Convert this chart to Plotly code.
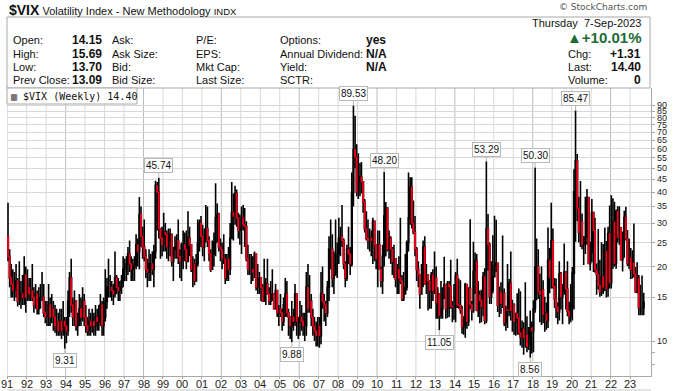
import math
import plotly.graph_objects as go
import pandas as pd

# ---------------- data (monthly summary of the weekly $VIX bars) ----------------
start_month = "1991-01-01"
first_open = 26.5

month_high = [
    36.2, 23.5, 20.5, 19.5, 19.0, 20.5, 18.0, 21.0, 17.5, 18.5, 22.0, 20.0,   # 1991
    19.5, 18.0, 18.0, 20.5, 16.5, 17.0, 16.0, 16.5, 17.0, 19.0, 17.0, 14.5,   # 1992
    14.5, 17.0, 15.0, 15.5, 14.5, 14.0, 13.5, 13.0, 13.5, 13.5, 14.5, 12.5,   # 1993
    12.5, 16.0, 19.0, 21.5, 15.0, 16.0, 14.5, 13.0, 15.5, 15.0, 16.5, 15.5,   # 1994
    14.0, 12.5, 13.5, 13.0, 13.5, 13.0, 14.0, 13.5, 14.0, 15.5, 14.5, 15.0,   # 1995
    19.5, 18.0, 21.5, 18.5, 17.5, 17.0, 23.0, 18.5, 18.0, 17.5, 18.5, 22.0,   # 1996
    21.5, 22.0, 24.0, 25.5, 22.0, 21.5, 22.0, 27.0, 26.0, 38.2, 35.0, 29.0,   # 1997
    31.0, 23.5, 21.5, 23.5, 22.5, 23.0, 24.5, 44.5, 44.0, 45.74, 28.5, 29.0,  # 1998
    33.0, 30.0, 28.0, 28.5, 28.5, 27.0, 24.0, 26.5, 27.0, 31.0, 23.5, 25.0,   # 1999
    28.0, 27.5, 28.0, 33.5, 29.0, 24.5, 22.0, 21.5, 22.5, 31.0, 31.0, 32.0,   # 2000
    29.5, 28.5, 35.5, 35.0, 26.5, 23.5, 25.5, 27.5, 43.5, 36.0, 33.0, 26.0,   # 2001
    25.0, 27.0, 22.5, 22.5, 24.0, 30.0, 44.0, 39.5, 42.5, 41.0, 33.0, 32.5,   # 2002
    35.0, 35.5, 34.5, 30.5, 24.5, 22.5, 22.5, 22.0, 23.0, 22.5, 20.5, 19.0,   # 2003
    17.5, 17.0, 21.5, 18.0, 21.5, 16.5, 17.5, 19.5, 15.5, 17.0, 16.0, 14.0,   # 2004
    15.5, 13.5, 15.0, 18.0, 17.5, 13.5, 12.5, 14.5, 13.5, 17.0, 15.5, 12.5,   # 2005
    14.5, 14.0, 13.0, 13.0, 19.0, 20.5, 18.5, 15.5, 13.5, 12.5, 12.0, 12.5,   # 2006
    12.5, 19.0, 20.0, 15.5, 14.5, 17.5, 26.5, 31.0, 27.0, 23.0, 31.0, 25.0,   # 2007
    31.5, 29.0, 35.5, 26.0, 21.0, 24.5, 29.0, 24.0, 48.0, 89.53, 81.5, 62.5,  # 2008
    57.5, 52.5, 53.0, 44.0, 37.5, 33.5, 31.0, 28.5, 28.0, 31.5, 30.5, 24.5,   # 2009
    28.0, 28.0, 20.0, 24.5, 48.2, 36.5, 34.5, 28.0, 26.5, 24.0, 24.5, 20.5,   # 2010
    20.5, 22.0, 31.5, 18.5, 19.0, 22.5, 25.5, 48.0, 46.0, 46.0, 37.0, 32.0,   # 2011
    24.0, 21.0, 18.5, 20.5, 25.5, 26.5, 20.5, 18.5, 17.5, 19.0, 19.5, 23.0,   # 2012
    20.0, 16.5, 15.5, 17.5, 16.5, 21.9, 17.0, 17.5, 17.5, 21.3, 14.5, 17.0,   # 2013
    19.0, 21.5, 17.9, 17.6, 13.9, 12.6, 17.2, 16.7, 16.5, 31.1, 14.5, 25.2,   # 2014
    22.8, 22.5, 17.5, 16.0, 16.1, 19.0, 19.7, 53.29, 32.6, 25.0, 21.0, 26.8,  # 2015
    32.1, 30.9, 20.7, 16.6, 17.3, 26.7, 16.3, 13.9, 20.5, 17.8, 23.0, 14.7,   # 2016
    14.2, 13.0, 15.6, 16.3, 15.9, 12.1, 11.9, 17.3, 12.6, 11.4, 13.3, 12.0,   # 2017
    14.6, 50.3, 26.0, 23.5, 18.7, 20.0, 17.6, 15.1, 14.3, 28.8, 23.8, 36.2,   # 2018
    28.5, 18.0, 17.9, 14.3, 21.0, 19.0, 17.0, 24.8, 18.3, 21.0, 14.4, 17.0,   # 2019
    19.9, 49.5, 85.47, 57.0, 38.3, 44.4, 32.8, 24.5, 38.3, 41.2, 38.1, 25.2,  # 2020
    37.5, 31.2, 31.5, 20.6, 28.4, 21.3, 25.1, 24.7, 28.8, 25.4, 29.0, 35.3,   # 2021
    38.9, 37.8, 36.6, 34.0, 35.1, 35.1, 28.8, 27.7, 33.6, 34.9, 28.1, 25.9,   # 2022
    23.8, 23.3, 29.9, 19.9, 20.8, 18.5, 16.9, 18.4, 15.69,                    # 2023
]

month_low = [
    21.0, 16.5, 15.0, 15.0, 14.5, 15.0, 13.8, 14.0, 13.5, 14.0, 14.0, 13.0,   # 1991
    14.5, 14.5, 14.5, 14.5, 13.0, 13.5, 12.8, 12.8, 13.5, 14.5, 12.5, 11.8,   # 1992
    11.5, 11.5, 11.5, 11.8, 11.0, 10.8, 10.5, 10.5, 10.5, 10.2, 10.5, 9.31,   # 1993
    9.8, 10.5, 12.5, 13.0, 11.5, 11.5, 11.0, 10.5, 11.5, 11.5, 12.0, 11.5,    # 1994
    10.8, 10.5, 10.5, 10.5, 10.8, 10.5, 10.5, 11.0, 11.0, 11.5, 10.5, 10.5,   # 1995
    12.0, 13.5, 15.0, 15.0, 14.5, 14.0, 15.0, 15.5, 14.5, 14.5, 15.5, 16.5,   # 1996
    17.5, 17.5, 18.5, 19.0, 17.5, 17.5, 17.5, 19.5, 20.0, 19.5, 24.0, 21.5,   # 1997
    21.0, 18.0, 16.5, 17.5, 17.5, 18.5, 16.5, 21.5, 28.0, 26.0, 21.5, 22.0,   # 1998
    23.0, 23.0, 21.5, 21.0, 22.0, 20.0, 17.5, 21.5, 21.5, 20.5, 18.0, 17.5,   # 1999
    19.5, 21.0, 19.5, 21.5, 22.0, 19.0, 16.5, 16.8, 17.5, 20.0, 23.0, 24.0,   # 2000
    22.0, 21.0, 25.0, 24.0, 21.0, 19.0, 19.5, 20.0, 22.0, 25.0, 23.0, 21.0,   # 2001
    19.5, 20.5, 17.0, 17.5, 17.5, 18.5, 26.0, 25.5, 29.5, 29.0, 26.0, 24.5,   # 2002
    22.5, 28.0, 24.0, 21.0, 18.5, 18.5, 17.0, 17.5, 18.0, 16.0, 15.5, 15.5,   # 2003
    14.5, 14.5, 14.5, 14.0, 15.5, 14.0, 14.0, 14.5, 13.5, 13.5, 12.5, 11.5,   # 2004
    12.5, 11.0, 11.5, 12.5, 12.5, 10.5, 10.2, 9.88, 11.0, 11.5, 10.5, 10.2,   # 2005
    10.5, 11.0, 10.5, 10.0, 10.5, 13.0, 13.0, 11.5, 10.5, 10.0, 9.5, 9.5,     # 2006
    9.4, 9.7, 13.5, 12.0, 11.5, 12.5, 14.5, 19.5, 16.5, 15.5, 18.5, 18.0,     # 2007
    20.5, 22.0, 24.0, 19.5, 16.5, 17.5, 20.5, 18.5, 20.0, 35.0, 50.0, 38.5,   # 2008
    37.5, 38.5, 39.5, 33.0, 27.5, 25.5, 23.5, 23.0, 22.0, 20.5, 21.0, 19.5,   # 2009
    16.5, 19.5, 16.5, 15.5, 20.0, 22.0, 23.0, 21.5, 20.5, 18.5, 18.0, 16.5,   # 2010
    15.5, 15.5, 17.0, 14.5, 14.5, 15.5, 16.0, 23.0, 29.5, 28.5, 27.0, 22.0,   # 2011
    17.5, 16.5, 13.5, 15.5, 16.5, 17.0, 15.5, 13.3, 13.5, 13.5, 14.5, 15.5,   # 2012
    12.3, 12.3, 11.05, 12.3, 12.3, 14.8, 12.3, 12.4, 12.5, 13.5, 11.9, 12.2,  # 2013
    11.9, 13.6, 13.5, 12.9, 10.7, 10.6, 10.3, 11.2, 11.5, 13.5, 12.1, 13.0,   # 2014
    15.5, 13.2, 12.5, 11.8, 11.9, 12.6, 11.7, 11.8, 19.3, 14.1, 14.1, 15.6,   # 2015
    18.4, 19.0, 13.1, 12.5, 12.9, 13.6, 11.5, 11.0, 11.3, 12.6, 12.1, 10.9,   # 2016
    10.6, 10.5, 10.6, 10.6, 9.6, 9.4, 8.8, 9.4, 9.0, 9.2, 8.56, 8.9,          # 2017
    9.0, 13.0, 14.6, 14.8, 11.9, 11.6, 11.8, 10.9, 11.1, 11.3, 15.6, 16.3,    # 2018
    16.3, 13.6, 12.4, 11.7, 12.1, 13.4, 11.7, 15.4, 13.4, 12.6, 11.7, 11.9,   # 2019
    12.1, 13.4, 25.2, 30.5, 25.0, 24.0, 23.5, 20.3, 22.5, 24.5, 20.6, 19.3,   # 2020
    20.8, 19.0, 18.9, 15.4, 16.1, 15.1, 15.2, 15.5, 15.9, 15.0, 15.1, 16.3,   # 2021
    16.3, 19.6, 20.0, 19.6, 25.0, 24.5, 21.9, 19.1, 21.7, 25.5, 20.1, 19.6,   # 2022
    17.8, 17.9, 18.1, 15.7, 15.6, 12.7, 12.7, 12.7, 12.7,                     # 2023
]

month_close = [
    22.0, 18.0, 17.0, 16.0, 16.5, 17.5, 14.5, 15.0, 15.5, 15.0, 18.5, 15.0,   # 1991
    16.5, 15.5, 16.0, 15.0, 14.0, 15.5, 13.5, 15.0, 15.0, 15.0, 13.0, 12.5,   # 1992
    12.5, 14.0, 12.5, 13.5, 12.5, 11.5, 12.0, 11.0, 12.0, 11.0, 12.0, 11.5,   # 1993
    11.0, 14.5, 18.0, 14.0, 12.5, 14.5, 11.5, 12.0, 13.5, 12.5, 14.5, 12.5,   # 1994
    11.5, 11.0, 12.0, 11.5, 12.0, 11.5, 12.5, 12.0, 12.5, 14.0, 11.5, 12.5,   # 1995
    14.5, 16.5, 16.5, 16.5, 16.0, 15.5, 18.0, 16.5, 16.0, 16.5, 17.5, 19.5,   # 1996
    19.5, 20.5, 22.5, 20.5, 19.5, 20.0, 20.5, 24.5, 23.0, 32.5, 26.5, 24.0,   # 1997
    22.0, 19.5, 19.0, 20.5, 20.5, 19.5, 23.0, 42.5, 40.0, 28.5, 26.0, 24.5,   # 1998
    27.5, 27.0, 24.0, 25.5, 27.0, 21.0, 23.5, 24.0, 25.5, 22.0, 21.0, 24.5,   # 1999
    24.5, 23.5, 21.0, 26.0, 24.5, 19.5, 20.5, 17.5, 20.5, 25.0, 30.0, 26.5,   # 2000
    24.0, 26.0, 28.5, 25.5, 22.5, 19.5, 22.5, 25.0, 31.5, 32.5, 24.0, 23.5,   # 2001
    21.5, 21.5, 18.0, 21.5, 19.5, 26.0, 33.0, 32.0, 39.5, 31.5, 28.0, 28.5,   # 2002
    31.5, 29.5, 29.0, 21.5, 19.5, 19.5, 19.5, 19.0, 22.5, 16.5, 16.5, 18.0,   # 2003
    16.5, 14.5, 16.5, 17.0, 15.5, 14.5, 15.5, 15.5, 13.5, 16.0, 13.0, 13.5,   # 2004
    13.0, 12.0, 14.0, 15.5, 13.0, 12.5, 11.5, 12.5, 12.0, 15.5, 12.0, 12.0,   # 2005
    12.5, 12.0, 11.5, 11.5, 16.5, 13.5, 14.5, 12.5, 11.5, 11.0, 10.5, 11.5,   # 2006
    10.5, 15.5, 14.5, 14.0, 13.0, 16.5, 23.5, 23.5, 18.0, 18.5, 22.5, 22.5,   # 2007
    26.0, 26.5, 25.5, 20.5, 18.0, 23.5, 22.5, 20.5, 40.0, 59.5, 55.5, 40.0,   # 2008
    44.5, 46.0, 44.0, 36.5, 28.5, 26.0, 25.5, 26.0, 25.5, 30.5, 24.5, 21.5,   # 2009
    24.5, 19.5, 17.5, 22.0, 32.0, 34.5, 23.5, 26.0, 23.5, 21.0, 21.5, 17.8,   # 2010
    19.5, 18.0, 17.5, 14.8, 15.5, 16.5, 25.0, 31.5, 42.0, 30.0, 27.5, 23.5,   # 2011
    19.5, 18.5, 15.5, 17.0, 24.0, 17.0, 18.5, 17.5, 16.0, 18.5, 16.0, 18.0,   # 2012
    14.3, 15.5, 12.7, 13.5, 16.3, 16.9, 13.5, 17.0, 16.6, 13.8, 13.7, 13.7,   # 2013
    18.4, 14.0, 13.9, 13.4, 11.4, 11.6, 16.9, 12.0, 16.3, 14.0, 13.3, 19.2,   # 2014
    21.0, 13.3, 15.3, 14.6, 13.8, 18.2, 12.1, 28.4, 24.5, 15.1, 16.1, 18.2,   # 2015
    20.2, 20.6, 13.95, 15.7, 14.2, 15.6, 11.9, 13.4, 13.3, 17.1, 13.3, 14.0,  # 2016
    12.0, 12.9, 12.4, 10.8, 10.4, 11.2, 10.3, 10.6, 9.5, 10.2, 11.3, 11.0,    # 2017
    13.5, 19.9, 20.0, 15.9, 15.4, 16.1, 12.8, 12.9, 12.1, 21.2, 18.1, 25.4,   # 2018
    16.6, 14.8, 13.7, 13.1, 18.7, 15.1, 16.1, 19.0, 16.2, 13.2, 12.6, 13.8,   # 2019
    18.8, 40.1, 53.5, 34.2, 27.5, 30.4, 24.5, 26.4, 26.4, 38.0, 20.6, 22.8,   # 2020
    33.1, 28.0, 19.4, 18.6, 16.8, 15.8, 18.2, 16.5, 23.1, 16.3, 27.2, 17.2,   # 2021
    24.8, 30.2, 20.6, 33.4, 26.2, 28.7, 21.3, 25.9, 31.6, 25.9, 20.6, 21.7,   # 2022
    19.4, 20.7, 18.7, 15.8, 17.9, 13.6, 13.6, 13.6, 14.4,                     # 2023
]

year_labels = [f"{y % 100:02d}" for y in range(1991, 2024)]
y_tick_values = [10, 15, 20, 25, 30, 35, 40, 45, 50, 55, 60, 65, 70, 75, 80, 85, 90]

peak_months = ["1998-10", "2008-10", "2010-05", "2015-08", "2018-02", "2020-03"]
trough_months = ["1993-12", "2005-08", "2013-03", "2017-11"]

header_rows = [
    ("Open:", "14.15", "Ask:", "P/E:", "Options:", "yes"),
    ("High:", "15.69", "Ask Size:", "EPS:", "Annual Dividend:", "N/A"),
    ("Low:", "13.70", "Bid:", "Mkt Cap:", "Yield:", "N/A"),
    ("Prev Close:", "13.09", "Bid Size:", "Last Size:", "SCTR:", ""),
]
right_rows = [("Chg:", "+1.31"), ("Last:", "14.40"), ("Volume:", "0")]

# ---------------- build OHLC ----------------
dates = pd.date_range(start_month, periods=len(month_close), freq="MS") + pd.Timedelta(days=14)
opens = [first_open] + month_close[:-1]
highs = [max(h, o, c) for h, o, c in zip(month_high, opens, month_close)]
lows = [min(l, o, c) for l, o, c in zip(month_low, opens, month_close)]
down = [i for i, (o, c) in enumerate(zip(opens, month_close)) if c < o]

W, H = 673, 391
L, R, T, B = 7, 651, 88, 376
RED = "#e8001c"


def px(x):
    return (x - L) / (R - L)


def py(y):
    return (B - y) / (B - T)


fig = go.Figure()
fig.add_trace(go.Candlestick(
    x=dates, open=opens, high=highs, low=lows, close=month_close,
    increasing=dict(line=dict(color="#000000", width=1.6), fillcolor="#000000"),
    decreasing=dict(line=dict(color="#000000", width=1.6), fillcolor="#000000"),
    whiskerwidth=0, showlegend=False, hoverinfo="skip",
))
fig.add_trace(go.Candlestick(
    x=[dates[i] for i in down], open=[opens[i] for i in down], close=[month_close[i] for i in down],
    high=[opens[i] for i in down], low=[month_close[i] for i in down],
    increasing=dict(line=dict(color=RED, width=1.2), fillcolor=RED),
    decreasing=dict(line=dict(color=RED, width=1.2), fillcolor=RED),
    whiskerwidth=0, showlegend=False, hoverinfo="skip",
))

shapes = []
for y in range(1991, 2024):
    dark = (y - 1994) % 4 == 0
    shapes.append(dict(type="line", xref="x", yref="paper", x0=f"{y}-01-01", x1=f"{y}-01-01",
                       y0=0, y1=1, line=dict(color="#bcbcbc" if dark else "#d8d8d8", width=1),
                       layer="below"))
shapes.append(dict(type="rect", xref="paper", yref="paper", x0=px(7), x1=px(650), y0=py(88), y1=py(17),
                   line=dict(color="#a8a8a8", width=1)))
shapes.append(dict(type="rect", xref="paper", yref="paper", x0=px(7), x1=px(137), y0=py(104), y1=py(88),
                   line=dict(color="#a8a8a8", width=1), fillcolor="white"))
shapes.append(dict(type="line", xref="paper", yref="paper", x0=px(7), x1=px(651), y0=py(390), y1=py(390),
                   line=dict(color="#c8c8c8", width=1)))

ann = []
font = "Liberation Sans, Arial, sans-serif"
ann.append(dict(x=px(7), y=py(10), xref="paper", yref="paper", xanchor="left", yanchor="middle",
                showarrow=False, font=dict(family=font, size=11, color="#111"),
                text="<span style='font-size:14px'><b>$VIX</b></span> Volatility Index - New Methodology "
                     "<span style='font-size:9.5px'>INDX</span>"))
ann.append(dict(x=px(649), y=py(7), xref="paper", yref="paper", xanchor="right", yanchor="middle",
                showarrow=False, font=dict(family="DejaVu Sans, sans-serif", size=9, color="#555"),
                text="© StockCharts.com"))

row_y = [40, 54, 67, 80]
for (a, v, b, c, d, e), ry in zip(header_rows, row_y):
    for txt, x in ((a, 11), (b, 110), (c, 194), (d, 278)):
        ann.append(dict(x=px(x), y=py(ry), xref="paper", yref="paper", xanchor="left", yanchor="middle",
                        showarrow=False, font=dict(family=font, size=11, color="#111"), text=txt))
    ann.append(dict(x=px(104), y=py(ry), xref="paper", yref="paper", xanchor="right", yanchor="middle",
                    showarrow=False, font=dict(family=font, size=12, color="#111"), text=f"<b>{v}</b>"))
    if e:
        ann.append(dict(x=px(364), y=py(ry), xref="paper", yref="paper", xanchor="left", yanchor="middle",
                        showarrow=False, font=dict(family=font, size=12, color="#111"), text=f"<b>{e}</b>"))

ann.append(dict(x=px(643), y=py(23), xref="paper", yref="paper", xanchor="right", yanchor="middle",
                showarrow=False, font=dict(family=font, size=11, color="#111"), text="Thursday  7-Sep-2023"))
ann.append(dict(x=px(643), y=py(38), xref="paper", yref="paper", xanchor="right", yanchor="middle",
                showarrow=False, font=dict(family=font, size=15, color="#1f6b35"), text="<b>▲+10.01%</b>"))
for (lab, val), ry in zip(right_rows, row_y[1:]):
    ann.append(dict(x=px(566), y=py(ry), xref="paper", yref="paper", xanchor="left", yanchor="middle",
                    showarrow=False, font=dict(family=font, size=11, color="#111"), text=lab))
    ann.append(dict(x=px(643), y=py(ry), xref="paper", yref="paper", xanchor="right", yanchor="middle",
                    showarrow=False, font=dict(family=font, size=12, color="#111"), text=f"<b>{val}</b>"))

ann.append(dict(x=px(9), y=py(96), xref="paper", yref="paper", xanchor="left", yanchor="middle",
                showarrow=False, font=dict(family="DejaVu Sans Mono, monospace", size=10, color="#111"),
                text="▥ $VIX (Weekly) 14.40"))

# right-hand price scale labels
for v in y_tick_values:
    ann.append(dict(x=px(655), y=math.log10(v), xref="paper", yref="y", xanchor="left", yanchor="middle",
                    showarrow=False, font=dict(family=font, size=9, color="#222"), text=str(v)))
# year labels under the time axis
for yr, lab in zip(range(1991, 2024), year_labels):
    ann.append(dict(x=f"{yr}-01-01", y=py(384), xref="x", yref="paper", xanchor="center", yanchor="middle",
                    showarrow=False, font=dict(family=font, size=11, color="#222"), text=lab))

month_keys = [d.strftime("%Y-%m") for d in dates]
for m in peak_months:
    i = month_keys.index(m)
    ann.append(dict(x=dates[i], y=math.log10(highs[i]), xref="x", yref="y", text=f"{highs[i]:.2f}",
                    showarrow=True, arrowhead=0, arrowwidth=1, arrowcolor="#b8b8b8", ax=0, ay=-12,
                    bgcolor="white", bordercolor="#b8b8b8", borderwidth=1, borderpad=1,
                    font=dict(family=font, size=10, color="#111")))
for m in trough_months:
    i = month_keys.index(m)
    ann.append(dict(x=dates[i], y=math.log10(lows[i]), xref="x", yref="y", text=f"{lows[i]:.2f}",
                    showarrow=True, arrowhead=0, arrowwidth=1, arrowcolor="#b8b8b8", ax=0, ay=12,
                    bgcolor="white", bordercolor="#b8b8b8", borderwidth=1, borderpad=1,
                    font=dict(family=font, size=10, color="#111")))

fig.update_layout(
    width=W, height=H, margin=dict(l=L, r=W - R, t=T, b=H - B, autoexpand=False),
    paper_bgcolor="white", plot_bgcolor="white",
    shapes=shapes, annotations=ann,
    xaxis=dict(type="date", range=["1990-12-27", "2024-01-30"], rangeslider=dict(visible=False),
               tickvals=[f"{y}-01-01" for y in range(1991, 2024)], showticklabels=False,
               showgrid=False, showline=True, linecolor="#a8a8a8", ticks="outside", ticklen=2,
               tickcolor="#a8a8a8", zeroline=False, automargin=False),
    yaxis=dict(type="log", side="right", range=[0.8585, 2.0232],
               tickvals=y_tick_values, showticklabels=False,
               showgrid=True, gridcolor="#d8d8d8", gridwidth=1,
               showline=True, linecolor="#a8a8a8", ticks="outside", ticklen=3, tickcolor="#a8a8a8",
               minor=dict(tickvals=[8, 9], ticks="outside", ticklen=3, tickcolor="#a8a8a8", showgrid=False),
               zeroline=False, automargin=False),
)

fig.write_html("out.html", config={"displayModeBar": False},
               post_script="document.body.style.margin='0px';document.body.style.overflow='hidden';")
